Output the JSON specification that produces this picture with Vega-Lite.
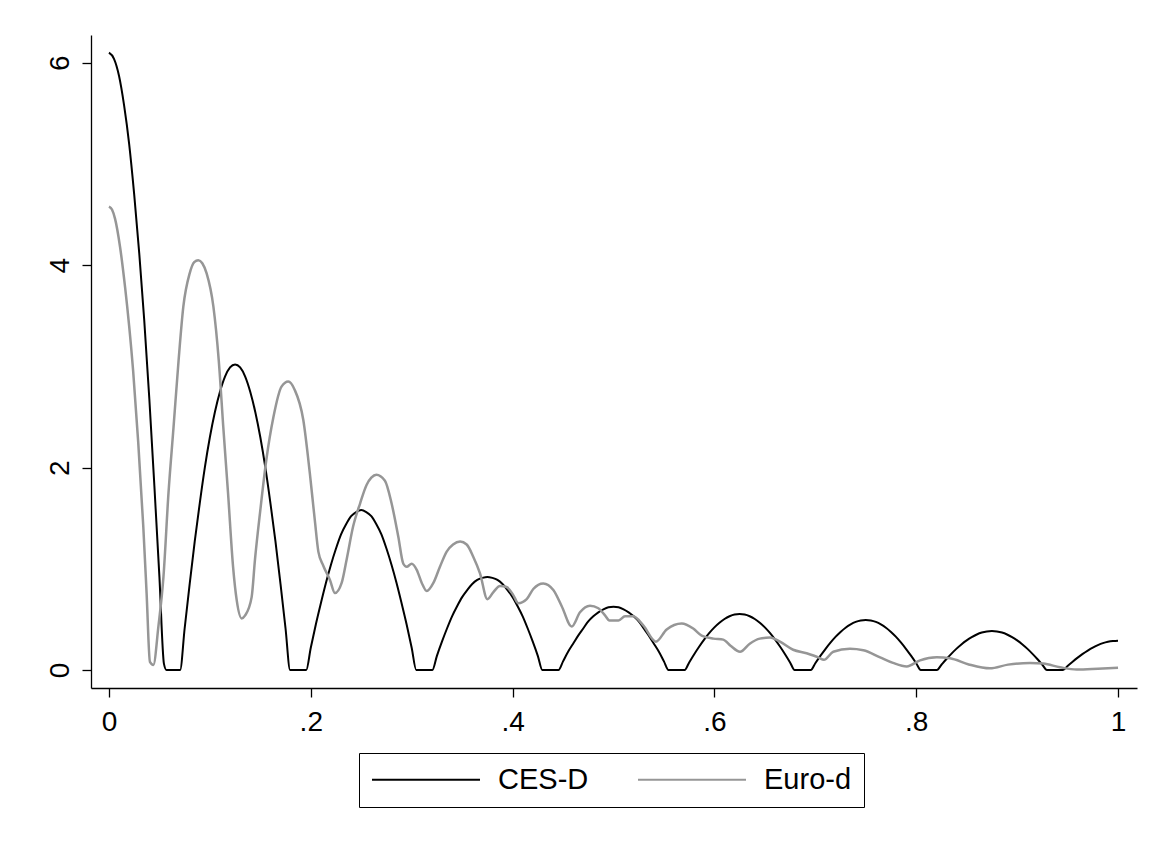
{
  "$schema": "https://vega.github.io/schema/vega-lite/v6.json",
  "width": 1046,
  "height": 653,
  "autosize": {"type": "none"},
  "padding": {"left": 91, "top": 35, "right": 21, "bottom": 158},
  "background": "white",
  "config": {"view": {"stroke": null}, "font": "Liberation Sans"},
  "datasets": {
    "ces": [
      {"x":0,"y":6.10},{"x":0.005,"y":6.04},{"x":0.01,"y":5.87},{"x":0.015,"y":5.58},{"x":0.02,"y":5.20},{"x":0.025,"y":4.70},{"x":0.03,"y":4.12},{"x":0.035,"y":3.45},{"x":0.04,"y":2.68},{"x":0.045,"y":1.82},{"x":0.05,"y":0.92},{"x":0.0545,"y":0.06},{"x":0.057,"y":0},
      {"x":0.0705,"y":0},{"x":0.075,"y":0.41},{"x":0.08,"y":0.85},{"x":0.085,"y":1.27},{"x":0.09,"y":1.65},{"x":0.095,"y":2.00},{"x":0.1,"y":2.30},{"x":0.105,"y":2.55},{"x":0.11,"y":2.75},{"x":0.115,"y":2.90},{"x":0.12,"y":2.99},{"x":0.125,"y":3.02},{"x":0.13,"y":2.99},{"x":0.135,"y":2.90},{"x":0.14,"y":2.75},{"x":0.145,"y":2.55},{"x":0.15,"y":2.30},{"x":0.155,"y":2.00},{"x":0.16,"y":1.65},{"x":0.165,"y":1.27},{"x":0.17,"y":0.85},{"x":0.175,"y":0.41},{"x":0.1795,"y":0},
      {"x":0.1955,"y":0},{"x":0.2,"y":0.22},{"x":0.205,"y":0.45},{"x":0.21,"y":0.66},{"x":0.215,"y":0.86},{"x":0.22,"y":1.04},{"x":0.225,"y":1.20},{"x":0.23,"y":1.34},{"x":0.235,"y":1.44},{"x":0.24,"y":1.52},{"x":0.245,"y":1.56},{"x":0.25,"y":1.58},{"x":0.255,"y":1.56},{"x":0.26,"y":1.52},{"x":0.265,"y":1.44},{"x":0.27,"y":1.34},{"x":0.275,"y":1.20},{"x":0.28,"y":1.04},{"x":0.285,"y":0.86},{"x":0.29,"y":0.66},{"x":0.295,"y":0.45},{"x":0.3,"y":0.22},{"x":0.3045,"y":0},
      {"x":0.3205,"y":0},{"x":0.325,"y":0.14},{"x":0.33,"y":0.28},{"x":0.335,"y":0.41},{"x":0.34,"y":0.53},{"x":0.345,"y":0.63},{"x":0.35,"y":0.72},{"x":0.355,"y":0.79},{"x":0.36,"y":0.85},{"x":0.365,"y":0.89},{"x":0.37,"y":0.91},{"x":0.375,"y":0.92},{"x":0.38,"y":0.91},{"x":0.385,"y":0.89},{"x":0.39,"y":0.85},{"x":0.395,"y":0.79},{"x":0.4,"y":0.72},{"x":0.405,"y":0.63},{"x":0.41,"y":0.53},{"x":0.415,"y":0.41},{"x":0.42,"y":0.28},{"x":0.425,"y":0.14},{"x":0.4295,"y":0},
      {"x":0.4455,"y":0},{"x":0.45,"y":0.085},{"x":0.455,"y":0.18},{"x":0.46,"y":0.26},{"x":0.465,"y":0.34},{"x":0.47,"y":0.41},{"x":0.475,"y":0.48},{"x":0.48,"y":0.53},{"x":0.485,"y":0.57},{"x":0.49,"y":0.60},{"x":0.495,"y":0.62},{"x":0.5,"y":0.625},{"x":0.505,"y":0.62},{"x":0.51,"y":0.60},{"x":0.515,"y":0.57},{"x":0.52,"y":0.53},{"x":0.525,"y":0.48},{"x":0.53,"y":0.41},{"x":0.535,"y":0.34},{"x":0.54,"y":0.26},{"x":0.545,"y":0.18},{"x":0.55,"y":0.085},{"x":0.5545,"y":0},
      {"x":0.5705,"y":0},{"x":0.575,"y":0.075},{"x":0.58,"y":0.156},{"x":0.585,"y":0.232},{"x":0.59,"y":0.302},{"x":0.595,"y":0.366},{"x":0.6,"y":0.421},{"x":0.605,"y":0.467},{"x":0.61,"y":0.504},{"x":0.615,"y":0.531},{"x":0.62,"y":0.548},{"x":0.625,"y":0.553},{"x":0.63,"y":0.548},{"x":0.635,"y":0.531},{"x":0.64,"y":0.504},{"x":0.645,"y":0.467},{"x":0.65,"y":0.421},{"x":0.655,"y":0.366},{"x":0.66,"y":0.302},{"x":0.665,"y":0.232},{"x":0.67,"y":0.156},{"x":0.675,"y":0.075},{"x":0.6795,"y":0},
      {"x":0.6955,"y":0},{"x":0.7,"y":0.067},{"x":0.705,"y":0.139},{"x":0.71,"y":0.207},{"x":0.715,"y":0.270},{"x":0.72,"y":0.327},{"x":0.725,"y":0.376},{"x":0.73,"y":0.418},{"x":0.735,"y":0.451},{"x":0.74,"y":0.475},{"x":0.745,"y":0.489},{"x":0.75,"y":0.494},{"x":0.755,"y":0.489},{"x":0.76,"y":0.475},{"x":0.765,"y":0.451},{"x":0.77,"y":0.418},{"x":0.775,"y":0.376},{"x":0.78,"y":0.327},{"x":0.785,"y":0.270},{"x":0.79,"y":0.207},{"x":0.795,"y":0.139},{"x":0.8,"y":0.067},{"x":0.8045,"y":0},
      {"x":0.8205,"y":0},{"x":0.825,"y":0.052},{"x":0.83,"y":0.109},{"x":0.835,"y":0.162},{"x":0.84,"y":0.211},{"x":0.845,"y":0.255},{"x":0.85,"y":0.293},{"x":0.855,"y":0.325},{"x":0.86,"y":0.351},{"x":0.865,"y":0.370},{"x":0.87,"y":0.381},{"x":0.875,"y":0.385},{"x":0.88,"y":0.381},{"x":0.885,"y":0.370},{"x":0.89,"y":0.351},{"x":0.895,"y":0.325},{"x":0.9,"y":0.293},{"x":0.905,"y":0.255},{"x":0.91,"y":0.211},{"x":0.915,"y":0.162},{"x":0.92,"y":0.109},{"x":0.925,"y":0.052},{"x":0.9295,"y":0},
      {"x":0.9455,"y":0},{"x":0.95,"y":0.040},{"x":0.955,"y":0.082},{"x":0.96,"y":0.122},{"x":0.965,"y":0.159},{"x":0.97,"y":0.192},{"x":0.975,"y":0.221},{"x":0.98,"y":0.245},{"x":0.985,"y":0.265},{"x":0.99,"y":0.279},{"x":0.995,"y":0.287},{"x":1.0,"y":0.29}
    ],
    "euro": [
      {"x":0,"y":4.58},{"x":0.003,"y":4.55},{"x":0.006,"y":4.46},{"x":0.011,"y":4.18},{"x":0.016,"y":3.78},{"x":0.02,"y":3.40},{"x":0.024,"y":2.95},{"x":0.029,"y":2.25},{"x":0.034,"y":1.42},{"x":0.0373,"y":0.76},{"x":0.0406,"y":0.08},{"x":0.044,"y":0.05},{"x":0.049,"y":0.43},{"x":0.054,"y":0.92},{"x":0.059,"y":1.75},{"x":0.064,"y":2.40},{"x":0.069,"y":3.06},{"x":0.0737,"y":3.59},{"x":0.08,"y":3.92},{"x":0.0845,"y":4.03},{"x":0.0885,"y":4.05},{"x":0.0925,"y":4.02},{"x":0.0968,"y":3.92},{"x":0.1035,"y":3.59},{"x":0.1088,"y":3.06},{"x":0.1133,"y":2.40},{"x":0.118,"y":1.75},{"x":0.123,"y":1.02},{"x":0.1266,"y":0.69},{"x":0.1315,"y":0.51},{"x":0.135,"y":0.54},{"x":0.1414,"y":0.72},{"x":0.1447,"y":1.09},{"x":0.15,"y":1.58},{"x":0.156,"y":2.08},{"x":0.163,"y":2.50},{"x":0.171,"y":2.80},{"x":0.1777,"y":2.85},{"x":0.184,"y":2.77},{"x":0.1926,"y":2.47},{"x":0.199,"y":1.95},{"x":0.204,"y":1.48},{"x":0.2075,"y":1.17},{"x":0.2124,"y":1.03},{"x":0.219,"y":0.89},{"x":0.224,"y":0.76},{"x":0.2306,"y":0.86},{"x":0.2355,"y":1.09},{"x":0.242,"y":1.42},{"x":0.249,"y":1.65},{"x":0.2554,"y":1.83},{"x":0.26,"y":1.90},{"x":0.265,"y":1.93},{"x":0.2735,"y":1.87},{"x":0.28,"y":1.65},{"x":0.2867,"y":1.32},{"x":0.2917,"y":1.05},{"x":0.295,"y":1.02},{"x":0.3,"y":1.05},{"x":0.305,"y":0.99},{"x":0.31,"y":0.86},{"x":0.3149,"y":0.78},{"x":0.3215,"y":0.86},{"x":0.328,"y":1.02},{"x":0.3347,"y":1.17},{"x":0.341,"y":1.24},{"x":0.348,"y":1.27},{"x":0.3545,"y":1.24},{"x":0.361,"y":1.12},{"x":0.3677,"y":0.955},{"x":0.375,"y":0.70},{"x":0.381,"y":0.77},{"x":0.3875,"y":0.83},{"x":0.394,"y":0.82},{"x":0.4007,"y":0.74},{"x":0.4057,"y":0.66},{"x":0.414,"y":0.70},{"x":0.4205,"y":0.80},{"x":0.4304,"y":0.855},{"x":0.4404,"y":0.79},{"x":0.4487,"y":0.63},{"x":0.4586,"y":0.43},{"x":0.4668,"y":0.57},{"x":0.4767,"y":0.635},{"x":0.485,"y":0.61},{"x":0.4916,"y":0.54},{"x":0.496,"y":0.49},{"x":0.505,"y":0.49},{"x":0.5114,"y":0.53},{"x":0.5196,"y":0.53},{"x":0.5295,"y":0.44},{"x":0.542,"y":0.28},{"x":0.5527,"y":0.40},{"x":0.5676,"y":0.46},{"x":0.579,"y":0.41},{"x":0.5874,"y":0.34},{"x":0.599,"y":0.31},{"x":0.6088,"y":0.30},{"x":0.616,"y":0.24},{"x":0.6254,"y":0.18},{"x":0.635,"y":0.26},{"x":0.645,"y":0.31},{"x":0.6551,"y":0.32},{"x":0.665,"y":0.28},{"x":0.678,"y":0.20},{"x":0.6914,"y":0.165},{"x":0.703,"y":0.125},{"x":0.7085,"y":0.10},{"x":0.7178,"y":0.18},{"x":0.7343,"y":0.21},{"x":0.7476,"y":0.195},{"x":0.7642,"y":0.125},{"x":0.777,"y":0.07},{"x":0.7906,"y":0.035},{"x":0.8038,"y":0.095},{"x":0.8203,"y":0.125},{"x":0.8335,"y":0.115},{"x":0.852,"y":0.055},{"x":0.873,"y":0.016},{"x":0.891,"y":0.053},{"x":0.9128,"y":0.07},{"x":0.926,"y":0.063},{"x":0.9425,"y":0.027},{"x":0.959,"y":0.004},{"x":0.98,"y":0.012},{"x":1.0,"y":0.022}
    ]
  },
  "layer": [
    {
      "data": {"name": "ces"},
      "transform": [{"calculate": "'CES-D'", "as": "s"}],
      "mark": {"type": "line", "interpolate": "monotone", "strokeWidth": 2},
      "encoding": {
        "x": {"field": "x", "type": "quantitative"},
        "y": {"field": "y", "type": "quantitative"},
        "color": {"field": "s", "type": "nominal"}
      }
    },
    {
      "data": {"name": "euro"},
      "transform": [{"calculate": "'Euro-d'", "as": "s"}],
      "mark": {"type": "line", "interpolate": "monotone", "strokeWidth": 2.5},
      "encoding": {
        "x": {"field": "x", "type": "quantitative"},
        "y": {"field": "y", "type": "quantitative"},
        "color": {"field": "s", "type": "nominal"}
      }
    }
  ],
  "encoding": {
    "x": {
      "field": "x", "type": "quantitative",
      "scale": {"domain": [-0.0178, 1.0188], "nice": false, "zero": false},
      "axis": {
        "values": [0, 0.2, 0.4, 0.6, 0.8, 1],
        "labelExpr": "datum.value == 0 ? '0' : datum.value == 1 ? '1' : '.' + format(datum.value * 10, '.0f')",
        "title": null, "grid": false,
        "domainColor": "#000000", "domainWidth": 1.3,
        "tickColor": "#000000", "tickWidth": 1.3, "tickSize": 9,
        "labelFontSize": 28, "labelColor": "#000000", "labelPadding": 11,
        "labelFont": "Liberation Sans"
      }
    },
    "y": {
      "field": "y", "type": "quantitative",
      "scale": {"domain": [-0.178, 6.275], "nice": false, "zero": false},
      "axis": {
        "values": [0, 2, 4, 6],
        "title": null, "grid": false,
        "domainColor": "#000000", "domainWidth": 1.3,
        "tickColor": "#000000", "tickWidth": 1.3, "tickSize": 9,
        "labelAngle": -90, "labelAlign": "center", "labelBaseline": "bottom",
        "labelFontSize": 28, "labelColor": "#000000", "labelPadding": 8,
        "labelFont": "Liberation Sans"
      }
    },
    "color": {
      "field": "s", "type": "nominal",
      "scale": {"domain": ["CES-D", "Euro-d"], "range": ["#000000", "#969696"]},
      "legend": {
        "orient": "none", "legendX": 268, "legendY": 718,
        "direction": "horizontal", "title": null,
        "symbolType": "M-1,0H7", "symbolSize": 729, "symbolStrokeWidth": 2,
        "labelFontSize": 29, "labelFont": "Liberation Sans", "labelColor": "#000000",
        "labelOffset": 98, "columnPadding": 45,
        "padding": 12, "strokeColor": "#000000", "fillColor": "#ffffff"
      }
    }
  }
}
